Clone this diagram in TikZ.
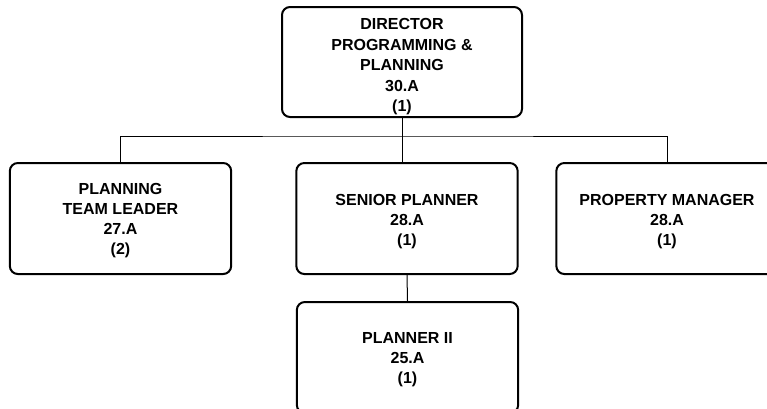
\documentclass[tikz,border=0pt]{standalone}
\usepackage{fontspec}
\setmainfont{Liberation Sans}
\usetikzlibrary{calc}

\newcommand{\boxlift}[1][13pt]{\rule{0pt}{#1}}

\tikzset{every picture/.style={line width=0.75pt}}
\tikzset{
  postbox/.style={draw, line width=1.5pt, rounded corners=6pt, fill=white,
    minimum width=166pt, minimum height=83.25pt, inner sep=0pt,
    align=center, font=\fontsize{12pt}{15pt}\selectfont\bfseries},
  link/.style={line width=0.75pt}
}

\begin{document}
\begin{tikzpicture}[x=0.75pt,y=0.75pt,yscale=-1,xscale=1]
\useasboundingbox (0,0) rectangle (767,408);

%Boxes
\node [postbox, minimum width=180pt, minimum height=82.5pt,
  font=\fontsize{12pt}{15.3pt}\selectfont\bfseries] (director) at (402,62) {\boxlift[15.5pt]DIRECTOR\\PROGRAMMING \&\\PLANNING\\30.A\\(1)};
\node [postbox] (teamlead) at (120.5,218.5) {\boxlift[12pt]PLANNING\\TEAM LEADER\\27.A\\(2)};
\node [postbox] (senior) at (407,218.5) {\boxlift SENIOR PLANNER\\28.A\\(1)};
\node [postbox] (property) at (667,218.5) {\boxlift PROPERTY MANAGER\\28.A\\(1)};
\node [postbox] (planner) at (407.5,357.5) {\boxlift[11pt]PLANNER II\\25.A\\(1)};

%Connectors
\coordinate (bus) at ($(director.south)+(0,18)$);
\draw [link] (director.south) -- (director.south |- senior.north);
\draw [link] (teamlead.north) |- (bus) -| (property.north);
\draw [link] (senior.south) -- (planner.north);

\end{tikzpicture}
\end{document}
